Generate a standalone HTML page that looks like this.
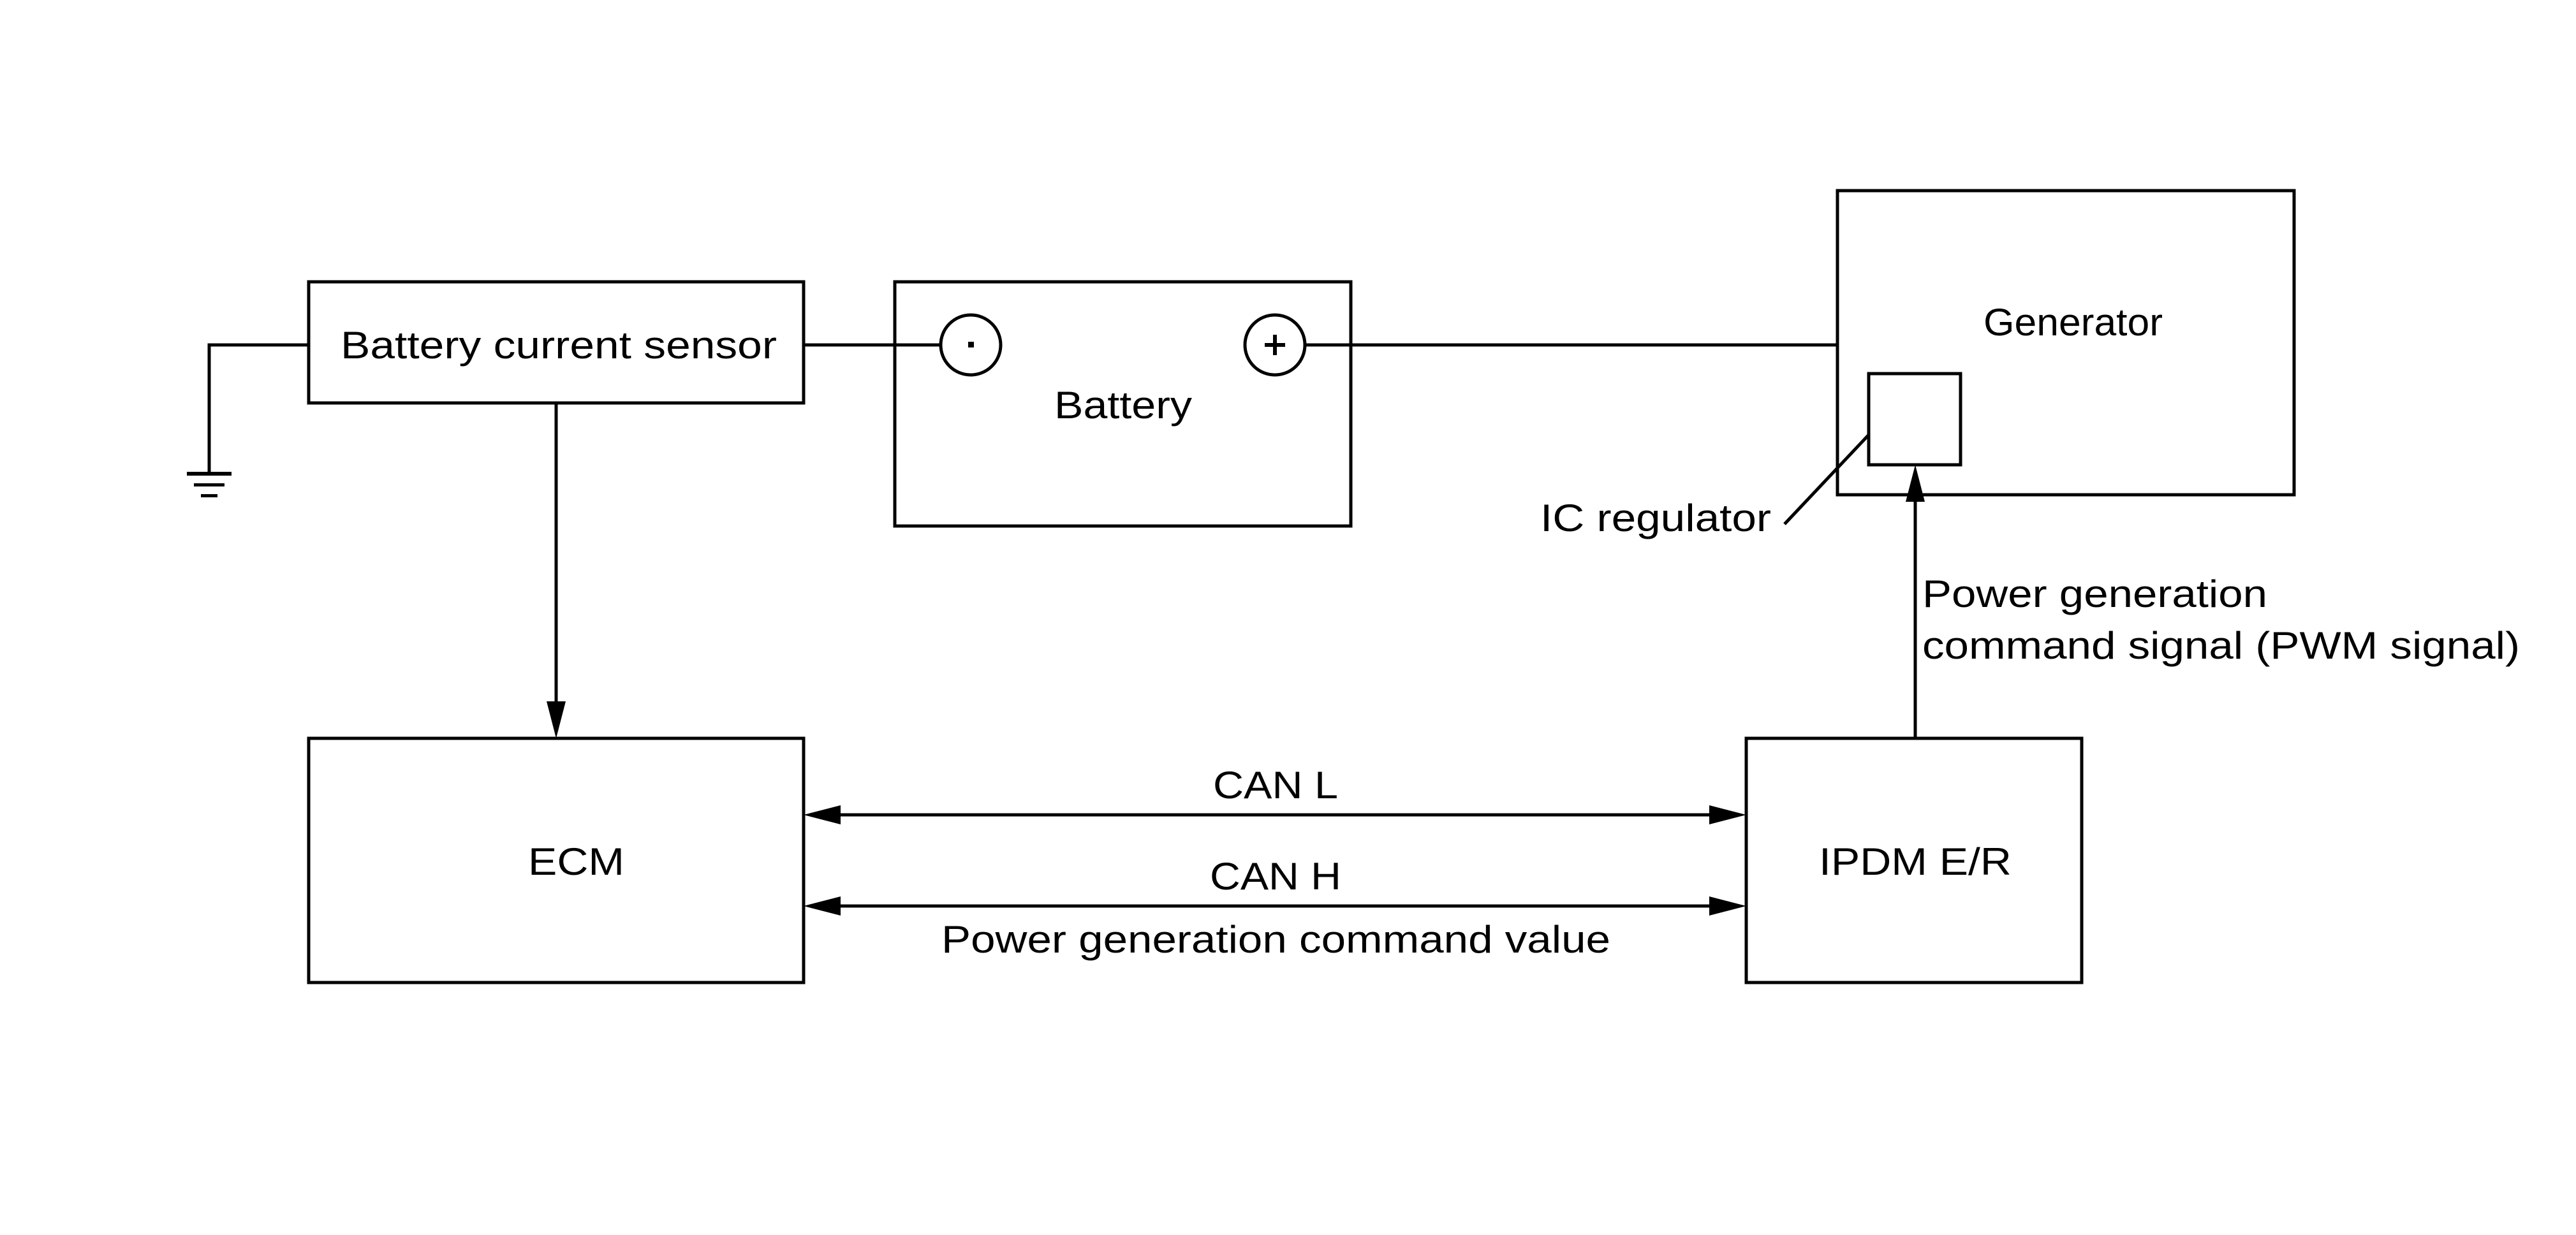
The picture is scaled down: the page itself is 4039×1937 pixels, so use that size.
<!DOCTYPE html>
<html><head><style>html,body{margin:0;padding:0;background:#fff}svg{display:block}</style></head>
<body>
<svg width="4039" height="1937" viewBox="0 0 4039 1937" xmlns="http://www.w3.org/2000/svg" font-family="'Liberation Sans', sans-serif" font-size="60" fill="#000">
<g fill="none" stroke="#000" stroke-width="5">
<rect x="484" y="442" width="776" height="190"/>
<rect x="1403" y="442" width="715" height="383"/>
<rect x="2881" y="299" width="716" height="477"/>
<rect x="2930" y="586" width="144" height="143"/>
<rect x="484" y="1158" width="776" height="383"/>
<rect x="2738" y="1158" width="526" height="383"/>
<polyline points="484,541 328,541 328,742"/>
<line x1="1260" y1="541" x2="1475" y2="541"/>
<line x1="2046" y1="541" x2="2881" y2="541"/>
<circle cx="1522" cy="541" r="47"/>
<circle cx="1999" cy="541" r="47"/>
<line x1="872" y1="632" x2="872" y2="1110"/>
<line x1="1310" y1="1278" x2="2690" y2="1278"/>
<line x1="1310" y1="1421" x2="2690" y2="1421"/>
<line x1="3003" y1="1158" x2="3003" y2="780"/>
<line x1="2930" y1="682" x2="2798" y2="822"/>
</g>
<rect x="293" y="740" width="70" height="6"/>
<rect x="304" y="758" width="48" height="5"/>
<rect x="315" y="775" width="26" height="5"/>
<rect x="1518" y="536" width="9" height="9"/>
<rect x="1996" y="525" width="6" height="32"/>
<rect x="1983" y="538" width="32" height="6"/>
<polygon points="872,1158 857,1100 887,1100"/>
<polygon points="1260,1278 1318,1263 1318,1293"/>
<polygon points="2738,1278 2680,1263 2680,1293"/>
<polygon points="1260,1421 1318,1406 1318,1436"/>
<polygon points="2738,1421 2680,1406 2680,1436"/>
<polygon points="3003,729 2988,787 3018,787"/>
<text x="534" y="562" textLength="684" lengthAdjust="spacingAndGlyphs">Battery current sensor</text>
<text x="1653" y="656" textLength="216" lengthAdjust="spacingAndGlyphs">Battery</text>
<text x="3110" y="526" textLength="281" lengthAdjust="spacingAndGlyphs">Generator</text>
<text x="2415" y="833" textLength="362" lengthAdjust="spacingAndGlyphs">IC regulator</text>
<text x="3014" y="952" textLength="541" lengthAdjust="spacingAndGlyphs">Power generation</text>
<text x="3014" y="1033" textLength="937" lengthAdjust="spacingAndGlyphs">command signal (PWM signal)</text>
<text x="828" y="1372" textLength="151" lengthAdjust="spacingAndGlyphs">ECM</text>
<text x="2852" y="1372" textLength="302" lengthAdjust="spacingAndGlyphs">IPDM E/R</text>
<text x="1902" y="1252" textLength="196" lengthAdjust="spacingAndGlyphs">CAN L</text>
<text x="1897" y="1395" textLength="206" lengthAdjust="spacingAndGlyphs">CAN H</text>
<text x="1476" y="1494" textLength="1049" lengthAdjust="spacingAndGlyphs">Power generation command value</text>
</svg>
</body></html>
